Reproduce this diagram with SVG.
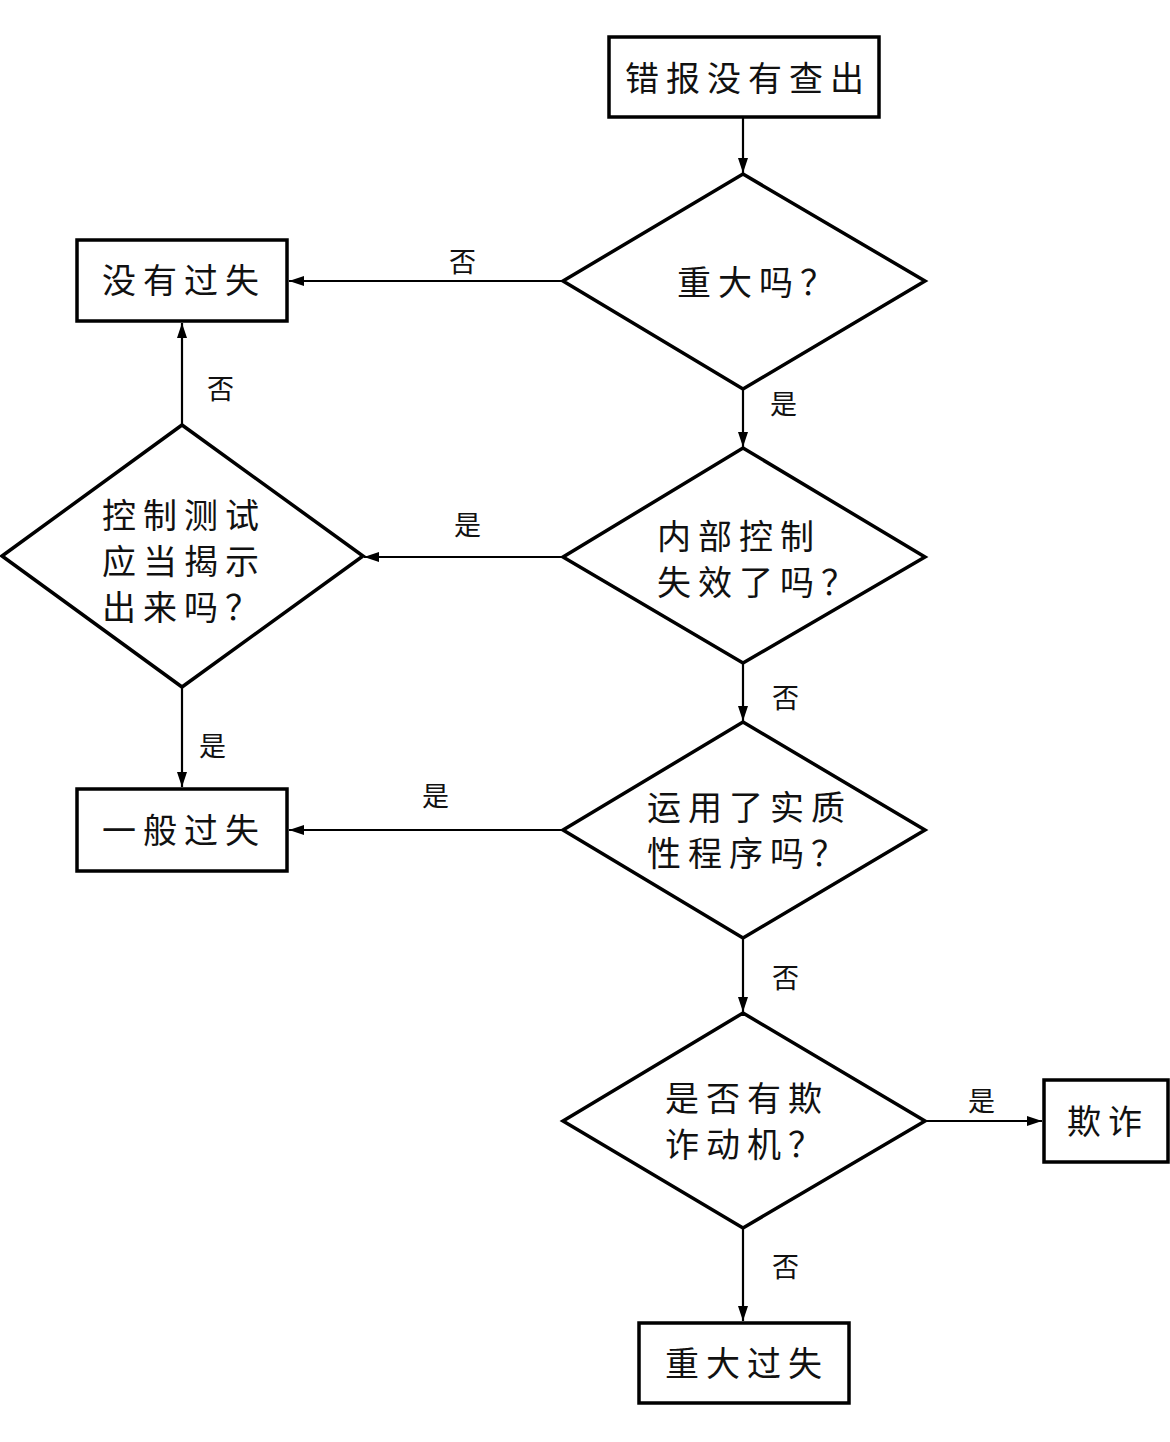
<svg xmlns="http://www.w3.org/2000/svg" width="1170" height="1442" viewBox="0 0 1170 1442">
<style>
.box{fill:#fff;stroke:#000;stroke-width:3.5}
.dia{fill:#fff;stroke:#000;stroke-width:3.5}
.t{font-family:"Noto Sans CJK SC","Noto Sans CJK JP",sans-serif;font-size:34px;letter-spacing:7px;fill:#111}
.lb{font-family:"Noto Sans CJK SC","Noto Sans CJK JP",sans-serif;font-size:27px;fill:#111}
.c{fill:none;stroke:#000;stroke-width:2.2;marker-end:url(#ah)}
</style>
<defs>
<marker id="ah" viewBox="0 0 15 10" refX="15" refY="5" markerWidth="15" markerHeight="10" markerUnits="userSpaceOnUse" orient="auto">
<path d="M0,0 L15,5 L0,10 Z" fill="#000"/>
</marker>
</defs>
<rect width="1170" height="1442" fill="#fff"/>
<g id="connectors">
<line class="c" x1="743" y1="118" x2="743" y2="173"/>
<line class="c" x1="563" y1="281" x2="289" y2="281"/>
<line class="c" x1="743" y1="389" x2="743" y2="447"/>
<line class="c" x1="563" y1="557" x2="364" y2="557"/>
<line class="c" x1="182" y1="425" x2="182" y2="323"/>
<line class="c" x1="182" y1="687" x2="182" y2="787"/>
<line class="c" x1="743" y1="663" x2="743" y2="721"/>
<line class="c" x1="563" y1="830" x2="289" y2="830"/>
<line class="c" x1="743" y1="938" x2="743" y2="1012"/>
<line class="c" x1="925" y1="1121" x2="1042" y2="1121"/>
<line class="c" x1="743" y1="1228" x2="743" y2="1321"/>
<text class="lb" x="449" y="272">否</text>
<text class="lb" x="770" y="414">是</text>
<text class="lb" x="454" y="535">是</text>
<text class="lb" x="207" y="399">否</text>
<text class="lb" x="772" y="708">否</text>
<text class="lb" x="199" y="756">是</text>
<text class="lb" x="422" y="806">是</text>
<text class="lb" x="772" y="988">否</text>
<text class="lb" x="968" y="1111">是</text>
<text class="lb" x="772" y="1277">否</text>
</g>
<g id="n1">
<rect class="box" x="609" y="37" width="270" height="80"/>
<text class="t" x="625" y="91">错报没有查出</text>
</g>
<g id="d1">
<polygon class="dia" points="743,174 925,281 743,389 563,281"/>
<text class="t" x="677" y="295">重大吗？</text>
</g>
<g id="n2">
<rect class="box" x="77" y="240" width="210" height="81"/>
<text class="t" x="102" y="293">没有过失</text>
</g>
<g id="d2">
<polygon class="dia" points="743,448 925,557 743,663 563,557"/>
<text class="t"><tspan x="657" y="549">内部控制</tspan><tspan x="657" y="595">失效了吗？</tspan></text>
</g>
<g id="d5">
<polygon class="dia" points="182,425 363,556 182,687 2,556"/>
<text class="t"><tspan x="102" y="528">控制测试</tspan><tspan x="102" y="574">应当揭示</tspan><tspan x="102" y="620">出来吗？</tspan></text>
</g>
<g id="d3">
<polygon class="dia" points="743,722 925,830 743,938 563,830"/>
<text class="t"><tspan x="647" y="820">运用了实质</tspan><tspan x="647" y="866">性程序吗？</tspan></text>
</g>
<g id="n3">
<rect class="box" x="77" y="789" width="210" height="82"/>
<text class="t" x="102" y="843">一般过失</text>
</g>
<g id="d4">
<polygon class="dia" points="743,1013 925,1121 743,1228 563,1121"/>
<text class="t"><tspan x="665" y="1111">是否有欺</tspan><tspan x="665" y="1157">诈动机？</tspan></text>
</g>
<g id="n4">
<rect class="box" x="1044" y="1080" width="124" height="82"/>
<text class="t" x="1067" y="1134">欺诈</text>
</g>
<g id="n5">
<rect class="box" x="639" y="1323" width="210" height="80"/>
<text class="t" x="665" y="1376">重大过失</text>
</g>
</svg>
